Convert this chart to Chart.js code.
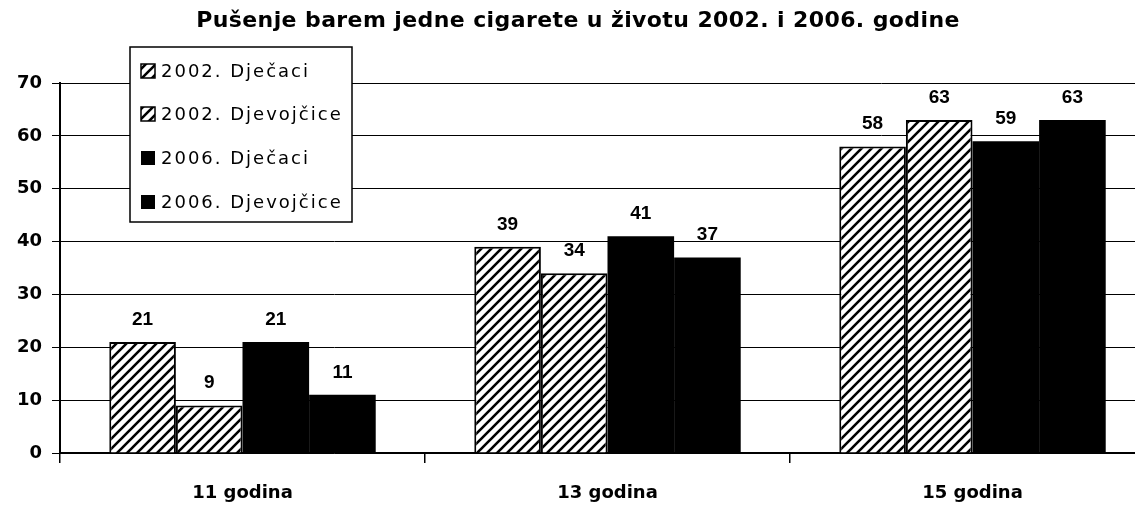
<!DOCTYPE html>
<html lang="hr">
<head>
    <meta charset="UTF-8">
    <title>Pušenje barem jedne cigarete</title>
    <style>
        body { margin: 0; overflow: hidden; background: #fff; }
    </style>
</head>
<body>
    <div style="width: 1155px; height: 508px;">
        <canvas id="myChart"></canvas>
    </div>
    <script src="https://cdn.jsdelivr.net/npm/chart.js"></script>
    <script>
        const chartTitle = "Pušenje barem jedne cigarete u životu 2002. i 2006. godine";
        const categories = ["11 godina", "13 godina", "15 godina"];
        const seriesLabels = ["2002. Dječaci", "2002. Djevojčice", "2006. Dječaci", "2006. Djevojčice"];
        const boys2002 = [21, 39, 58];
        const girls2002 = [9, 34, 63];
        const boys2006 = [21, 41, 59];
        const girls2006 = [11, 37, 63];
        const yMax = 70;
        const yStep = 10;

        const ctx = document.getElementById("myChart");
        const c2d = ctx.getContext("2d");

        // diagonal hatch fill for 2002 bars
        function f_hatch() {
            let p = document.createElement("canvas");
            p.width = 10; p.height = 10;
            let g = p.getContext("2d");
            g.fillStyle = "#fff";
            g.fillRect(0, 0, 10, 10);
            g.strokeStyle = "#000";
            g.lineWidth = 2.6;
            g.beginPath();
            g.moveTo(0, 10); g.lineTo(10, 0);
            g.moveTo(-5, 5); g.lineTo(5, -5);
            g.moveTo(5, 15); g.lineTo(15, 5);
            g.stroke();
            return c2d.createPattern(p, "repeat");
        }
        const hatch = f_hatch();

        const v_datasets = [
            { label: seriesLabels[0], data: boys2002, backgroundColor: hatch, borderColor: "#000", borderWidth: 2 },
            { label: seriesLabels[1], data: girls2002, backgroundColor: hatch, borderColor: "#000", borderWidth: 2 },
            { label: seriesLabels[2], data: boys2006, backgroundColor: "#000", borderColor: "#000", borderWidth: 0 },
            { label: seriesLabels[3], data: girls2006, backgroundColor: "#000", borderColor: "#000", borderWidth: 0 }
        ];

        const labelFont = "bold 19px 'Liberation Sans', Arial, sans-serif";
        const textFont = "'DejaVu Sans', sans-serif";

        const extras = {
            id: "extras",
            afterDatasetsDraw(chart) {
                const g = chart.ctx;
                g.save();
                // values above bars
                g.fillStyle = "#000";
                g.font = labelFont;
                g.textAlign = "center";
                g.textBaseline = "bottom";
                chart.data.datasets.forEach((ds, i) => {
                    chart.getDatasetMeta(i).data.forEach((bar, k) => {
                        g.fillText(ds.data[k], bar.x, bar.y - 13);
                    });
                });
                // title
                g.font = "bold 22px " + textFont;
                g.textBaseline = "middle";
                g.letterSpacing = "0.4px";
                g.fillText(chartTitle, 578, 21);
                // legend box
                g.letterSpacing = "0px";
                g.fillStyle = "#fff";
                g.fillRect(130, 47, 222, 175);
                g.strokeStyle = "#000";
                g.lineWidth = 1.5;
                g.strokeRect(130, 47, 222, 175);
                const rows = [71, 114, 158, 202];
                g.font = "18px " + textFont;
                g.textAlign = "left";
                g.letterSpacing = "2px";
                chart.data.datasets.forEach((ds, i) => {
                    let y = rows[i];
                    g.fillStyle = ds.backgroundColor;
                    g.fillRect(141, y - 7, 14, 14);
                    if (ds.borderWidth) {
                        g.strokeStyle = "#000";
                        g.lineWidth = 1.5;
                        g.strokeRect(141, y - 7, 14, 14);
                    }
                    g.fillStyle = "#000";
                    g.fillText(ds.label, 161, y + 1);
                });
                g.restore();
            }
        };

        new Chart(ctx, {
            type: "bar",
            data: {
                labels: categories,
                datasets: v_datasets
            },
            plugins: [extras],
            options: {
                responsive: true,
                maintainAspectRatio: false,
                animation: false,
                layout: { padding: { top: 83, left: 6, right: 0, bottom: 0 } },
                datasets: {
                    bar: { categoryPercentage: 0.73, barPercentage: 1.0 }
                },
                plugins: {
                    legend: { display: false },
                    title: { display: false },
                    tooltip: { enabled: false }
                },
                scales: {
                    x: {
                        grid: { drawOnChartArea: false, drawTicks: true, tickLength: 10, color: "#000", lineWidth: 1.5 },
                        border: { color: "#000", width: 1.5 },
                        ticks: { color: "#000", font: { family: textFont, size: 18, weight: "bold" }, padding: 20 },
                        afterFit(scale) { scale.height = 55; }
                    },
                    y: {
                        min: 0,
                        max: yMax,
                        ticks: { stepSize: yStep, color: "#000", font: { family: textFont, size: 18, weight: "bold" }, padding: 10 },
                        grid: { color: "#000", lineWidth: 1, tickLength: 8 },
                        border: { color: "#000", width: 2 },
                        afterFit(scale) { scale.width = 54; }
                    }
                }
            }
        });
    </script>
</body>
</html>
